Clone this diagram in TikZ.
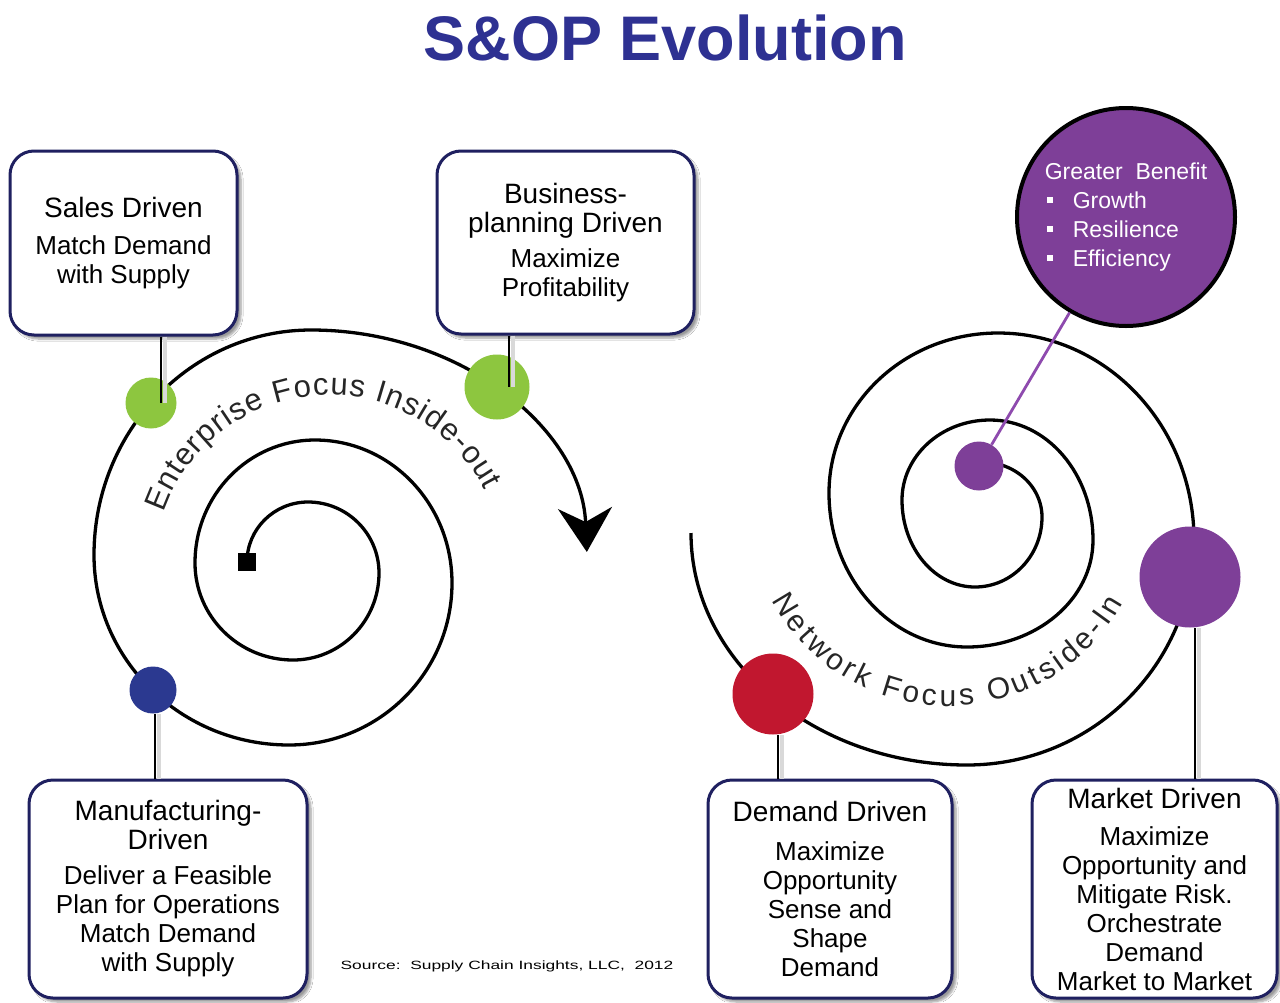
\documentclass[tikz,border=0pt]{standalone}
\usepackage{fontspec}
\setmainfont{Liberation Sans}
\usepackage{tikz}
\usetikzlibrary{
  arrows.meta,
  calc,
  shadows.blur,
  decorations.text
}
\definecolor{navyline}{HTML}{1F2060}
\definecolor{titleblue}{HTML}{2E3192}
\definecolor{dotgreen}{HTML}{8DC63F}
\definecolor{dotblue}{HTML}{2B3990}
\definecolor{dotred}{HTML}{C1172F}
\definecolor{dotpurple}{HTML}{7E3F98}
\definecolor{linkpurple}{HTML}{8E4AAE}

\newcommand{\stagetitle}[1]{{\fontsize{28}{29}\selectfont #1}}
\newcommand{\benefitmark}{\hspace*{2pt}\makebox[26pt][l]{\rule[5pt]{6pt}{6pt}}}

\begin{document}
\begin{tikzpicture}[
  x=1pt, y=-1pt,
  stage/.style={
    draw=navyline, line width=3pt, rounded corners=24pt, fill=white,
    align=center, font=\fontsize{26}{29}\selectfont, inner sep=0pt,
    blur shadow={shadow xshift=4pt, shadow yshift=-4pt, shadow blur steps=6},
  },
  bead/.style={circle, inner sep=0pt, minimum size=#1},
  spiral/.style={line width=3.3pt, line join=round},
  link/.style={
    line width=2.6pt,
    preaction={draw=black!15, line width=4pt, transform canvas={xshift=4pt}},
  },
  arctext/.style={
    decorate,
    decoration={text along path, text align=fit to path, text color=black!85},
  },
]
\path[use as bounding box, fill=white] (0,0) rectangle (1280,1002);

% Title
\node[font=\fontsize{63}{63}\selectfont\bfseries, text=titleblue] (title) at (665,38) {S\&OP Evolution};

% Left spiral, enterprise focus inside-out (quarter arcs, growing outward)
\node[fill=black, minimum size=18pt, inner sep=0pt] (core) at (247,562) {};
\draw[spiral, -{Stealth[length=44pt, width=54pt, inset=14pt]}] (core.center)
  arc[start angle=180, end angle=270, x radius=61, y radius=60]
  arc[start angle=-90, end angle=0, x radius=71, y radius=71]
  arc[start angle=0, end angle=90, x radius=86, y radius=87]
  arc[start angle=90, end angle=180, x radius=98, y radius=97]
  arc[start angle=180, end angle=270, x radius=120, y radius=123]
  arc[start angle=-90, end angle=0, x radius=137, y radius=143]
  arc[start angle=0, end angle=90, x radius=163, y radius=162]
  arc[start angle=90, end angle=180, x radius=195, y radius=190]
  arc[start angle=180, end angle=270, x radius=217, y radius=225]
  arc[start angle=-90, end angle=-2, x radius=276, y radius=230];
\path[arctext, decoration={text={|\fontsize{31}{31}\selectfont|Enterprise Focus Inside-out}}]
  (329,570) ++(-161:175) arc[start angle=-161, end angle=-27, radius=175];

% Right spiral, network focus outside-in (quarter arcs, winding inward)
\draw[spiral] (691,533)
  arc[start angle=180, end angle=90, x radius=276, y radius=232]
  arc[start angle=90, end angle=0, x radius=227, y radius=225]
  arc[start angle=0, end angle=-90, x radius=196, y radius=207]
  arc[start angle=-90, end angle=-180, x radius=169, y radius=160]
  arc[start angle=180, end angle=90, x radius=138, y radius=154]
  arc[start angle=90, end angle=0, x radius=126, y radius=107]
  arc[start angle=0, end angle=-90, x radius=103, y radius=120]
  arc[start angle=-90, end angle=-180, x radius=88, y radius=80]
  arc[start angle=180, end angle=90, x radius=73, y radius=87]
  arc[start angle=90, end angle=0, x radius=67, y radius=70]
  arc[start angle=0, end angle=-92, x radius=60, y radius=55];
\path[arctext, decoration={text={|\fontsize{30}{30}\selectfont|Network Focus Outside-In}}]
  (948,506) ++(152:200) arc[start angle=152, end angle=29, radius=200];

% Stage boxes
\node[stage, minimum width=227pt, minimum height=184pt] (sales) at (123.5,243)
  {\stagetitle{Sales Driven}\\[8pt]Match Demand\\with Supply};
\node[stage, minimum width=257pt, minimum height=183pt] (biz) at (565.5,242.5)
  {\stagetitle{Business-}\\\stagetitle{planning Driven}\\[6pt]Maximize\\Profitability};
\node[stage, minimum width=278pt, minimum height=218pt] (mfg) at (168,889)
  {\stagetitle{Manufacturing-}\\\stagetitle{Driven}\\[6pt]Deliver a Feasible\\Plan for Operations\\Match Demand\\with Supply};
\node[stage, minimum width=244pt, minimum height=218pt] (demand) at (830,889)
  {\stagetitle{Demand Driven}\\[10pt]Maximize\\Opportunity\\Sense and\\Shape\\Demand};
\node[stage, minimum width=245pt, minimum height=218pt] (market) at (1154.5,889)
  {\stagetitle{Market Driven}\\[8pt]Maximize\\Opportunity and\\Mitigate Risk.\\Orchestrate\\Demand\\Market to Market};

% Stage markers on the spirals
\node[bead=51pt, fill=dotgreen] (salesdot) at (151,403) {};
\node[bead=65pt, fill=dotgreen] (bizdot) at (497,387) {};
\node[bead=47pt, fill=dotblue] (mfgdot) at (153,690) {};
\node[bead=81pt, fill=dotred] (demanddot) at (773,694) {};
\node[bead=101pt, fill=dotpurple] (marketdot) at (1190,577) {};
\node[bead=49pt, fill=dotpurple] (benefitdot) at (979,466) {};

% Links from markers to boxes
\draw[link] ([xshift=10pt]salesdot.center |- sales.south) -- ([xshift=10pt]salesdot.center);
\draw[link] ([xshift=12pt]bizdot.center |- biz.south) -- ([xshift=12pt]bizdot.center);
\draw[link] ([xshift=2pt]mfgdot.center |- mfg.north) -- ([xshift=2pt]mfgdot.south);
\draw[link] ([xshift=5pt]demanddot.center |- demand.north) -- ([xshift=5pt]demanddot.south);
\draw[link] ([xshift=5pt]marketdot.center |- market.north) -- ([xshift=5pt]marketdot.south);

% Greater benefit bubble
\node[circle, draw=black, line width=4pt, fill=dotpurple, minimum size=218pt, inner sep=0pt,
  align=left, text=white, font=\fontsize{23}{29}\selectfont] (benefit) at (1126,217)
  {Greater\ \ Benefit\\\benefitmark Growth\\\benefitmark Resilience\\\benefitmark Efficiency};
\draw[linkpurple, line width=2.8pt] (benefitdot) -- (benefit);

% Source note
\node (source) at (507,966) {\scalebox{1.45}[1]{\fontsize{12}{12}\selectfont Source:\ \ Supply Chain Insights, LLC,\ \ 2012}};

\end{tikzpicture}
\end{document}
